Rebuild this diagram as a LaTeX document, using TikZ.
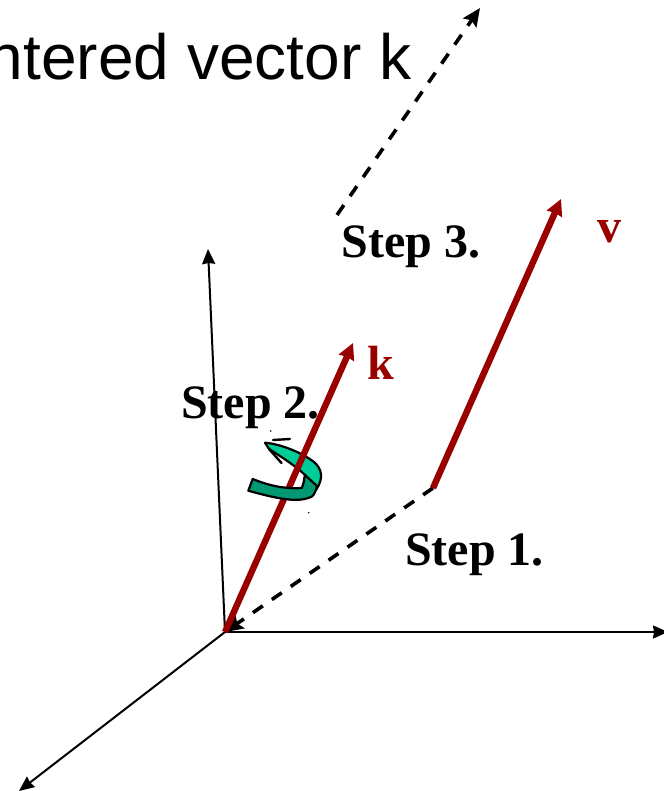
\documentclass[tikz,border=0pt]{standalone}
\usepackage{fontspec}
\setmainfont{Liberation Serif}
\newfontfamily\sansf{Liberation Sans}
\usetikzlibrary{arrows.meta}
\definecolor{redv}{RGB}{153,0,0}
\definecolor{ribL}{RGB}{0,204,153}
\definecolor{ribD}{RGB}{0,153,115}
\tikzset{x=1pt,y=-1pt,
 axisline/.style={line width=2pt,-{Stealth[length=15pt,width=13pt,inset=1pt]}},
 dashline/.style={line width=3.6pt,dash pattern=on 12pt off 11pt,-{Stealth[length=18pt,width=16pt,inset=3pt]}},
 redline/.style={color=redv,line width=6.4pt,-{Stealth[length=16pt,width=16pt,inset=1pt]}},
 lbl/.style={font=\fontsize{48}{48}\selectfont\bfseries,inner sep=0pt,anchor=base west},
 redlbl/.style={lbl,text=redv},
 rib/.style={draw=black,line width=2.2pt,line join=round},
 speck/.style={fill=black,draw=none,circle,inner sep=0pt,minimum size=1.6pt}}
\begin{document}
\begin{tikzpicture}
\useasboundingbox (0,0) rectangle (663,791);
\coordinate (O) at (225,632);
\coordinate (Z) at (208,249);
\coordinate (X) at (668,632);
\coordinate (Y) at (19,791);
\coordinate (K) at (353,343);
\coordinate (VS) at (433,488);
\coordinate (VE) at (561,199);
\coordinate (DS) at (337,215);
\coordinate (DE) at (480,8);
\draw[axisline] (O) -- (Z);
\draw[axisline] (O) -- (X);
\draw[axisline] (O) -- (Y);
\draw[dashline] (VS) -- (O);
\draw[dashline] (DS) -- (DE);
\draw[redline] (VS) -- (VE);
% ribbon, light part behind the red vector
\draw[rib,fill=ribL] (265,442.7) .. controls (280,444) and (301,452) .. (314,462)
  .. controls (322,469) and (324,478) .. (316,490) -- (305,475)
  .. controls (298,468) and (285,459) .. (269,449) -- cycle;
\draw[line width=2.4pt,line cap=round] (273,440) -- (290,439);
\draw[line width=2.4pt,line cap=round] (269,449) -- (281.5,463);
\draw[redline] (O) -- (K);
% ribbon, dark part in front of the red vector
\draw[rib,fill=ribD] (252.7,479) .. controls (270,486) and (285,489) .. (301.7,488)
  .. controls (304,484) and (304,478) .. (305,475) -- (317,486)
  .. controls (316,491) and (314,495) .. (311.7,496.7)
  .. controls (300,502) and (285,501) .. (248.3,490.7) -- cycle;
\node[speck] (a) at (270.7,431) {};
\node[speck] (b) at (308.7,512.7) {};
\node[lbl] (s3) at (341.5,258) {Step 3.};
\node[lbl] (s2) at (181,418) {Step 2.};
\node[lbl] (s1) at (405,565) {Step 1.};
\node[redlbl] (v) at (597,243) {v};
\node[redlbl] (k) at (367,379) {k};
\node[font=\sansf\fontsize{64}{64}\selectfont,inner sep=0pt,anchor=base east] (t) at (411.5,80) {ntered vector k};
\end{tikzpicture}
\end{document}
